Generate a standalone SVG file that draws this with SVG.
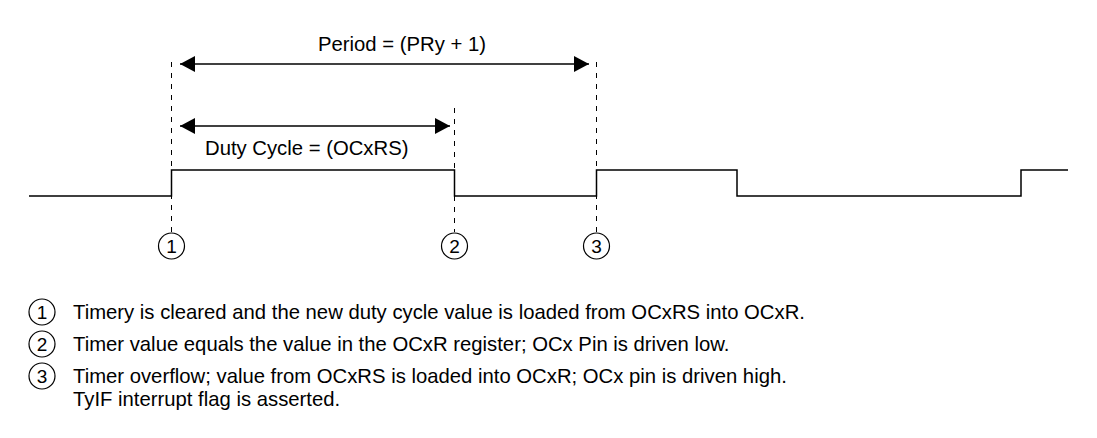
<svg xmlns="http://www.w3.org/2000/svg" width="1097" height="438" viewBox="0 0 1097 438">
<style>
text{font-family:"Liberation Sans",Arial,sans-serif;font-size:20.3px;fill:#000}
.dash{stroke:#000;stroke-width:1;stroke-dasharray:5,6;fill:none}
.arr{stroke:#000;stroke-width:1.5;fill:none}
.wave{stroke:#000;stroke-width:1.5;fill:none}
.c{stroke:#000;stroke-width:1.2;fill:#fff}
.n{text-anchor:middle;font-size:19px}
.p{text-anchor:middle}
</style>
<defs>
<marker id="ah" markerWidth="16" markerHeight="16" viewBox="0 0 16 16" refX="15" refY="8" orient="auto-start-reverse" markerUnits="userSpaceOnUse">
<path d="M0,0 L15,8 L0,16 Z" fill="#000"/>
</marker>
</defs>
<rect width="1097" height="438" fill="#fff"/>
<g id="connectors">
<line class="dash" x1="171.5" y1="62" x2="171.5" y2="232"/>
<line class="dash" x1="454.5" y1="108" x2="454.5" y2="232"/>
<line class="dash" x1="596.5" y1="62" x2="596.5" y2="232"/>
<line class="arr" x1="180" y1="64" x2="589" y2="64" marker-start="url(#ah)" marker-end="url(#ah)"/>
<line class="arr" x1="180" y1="126" x2="450" y2="126" marker-start="url(#ah)" marker-end="url(#ah)"/>
</g>
<g id="waveform">
<polyline class="wave" points="29,196 171.5,196 171.5,170 454.5,170 454.5,196 596.5,196 596.5,170 737,170 737,196 1021,196 1021,170 1068,170"/>
</g>
<g id="label-period"><text x="402" y="51" class="p">Period = (PRy + 1)</text></g>
<g id="label-duty"><text x="205" y="155">Duty Cycle = (OCxRS)</text></g>
<g id="marker1"><circle class="c" cx="171.5" cy="246" r="13"/><text x="171.5" y="253" class="n">1</text></g>
<g id="marker2"><circle class="c" cx="454.5" cy="246" r="13"/><text x="454.5" y="253" class="n">2</text></g>
<g id="marker3"><circle class="c" cx="596.5" cy="246" r="13"/><text x="596.5" y="253" class="n">3</text></g>
<g id="legend1"><circle class="c" cx="42" cy="312" r="13"/><text x="42" y="319" class="n">1</text><text x="73" y="319">Timery is cleared and the new duty cycle value is loaded from OCxRS into OCxR.</text></g>
<g id="legend2"><circle class="c" cx="42" cy="344" r="13"/><text x="42" y="351" class="n">2</text><text x="73" y="351">Timer value equals the value in the OCxR register; OCx Pin is driven low.</text></g>
<g id="legend3"><circle class="c" cx="42" cy="376" r="13"/><text x="42" y="383" class="n">3</text><text x="73" y="383">Timer overflow; value from OCxRS is loaded into OCxR; OCx pin is driven high.</text><text x="73" y="406">TyIF interrupt flag is asserted.</text></g>
</svg>
